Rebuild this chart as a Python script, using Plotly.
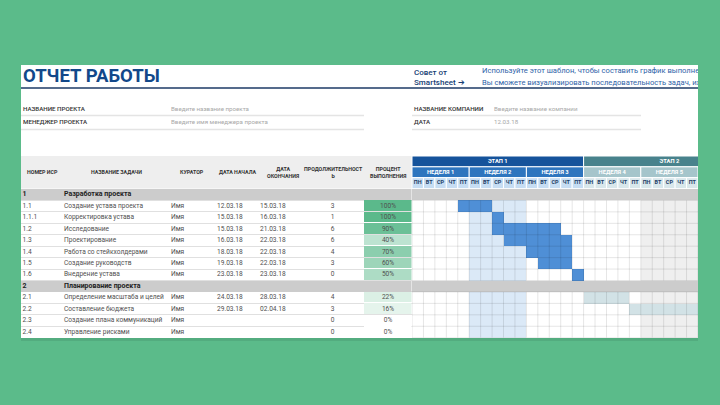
"""
Отчет работы: таблица задач + диаграмма Ганта
"""
import plotly.graph_objects as go

# ---- данные таблицы ----
wbs = ['1', '1.1', '1.1.1', '1.2', '1.3', '1.4', '1.5', '1.6',
       '2', '2.1', '2.2', '2.3', '2.4']
task_names = ['Разработка проекта', 'Создание устава проекта', 'Корректировка устава',
              'Исследование', 'Проектирование', 'Работа со стейкхолдерами',
              'Создание руководств', 'Внедрение устава',
              'Планирование проекта', 'Определение масштаба и целей',
              'Составление бюджета', 'Создание плана коммуникаций', 'Управление рисками']
curators = ['', 'Имя', 'Имя', 'Имя', 'Имя', 'Имя', 'Имя', 'Имя',
            '', 'Имя', 'Имя', 'Имя', 'Имя']
start_dates = ['', '12.03.18', '15.03.18', '15.03.18', '16.03.18', '18.03.18', '19.03.18', '23.03.18',
               '', '24.03.18', '29.03.18', '', '']
end_dates = ['', '15.03.18', '16.03.18', '21.03.18', '22.03.18', '22.03.18', '22.03.18', '23.03.18',
             '', '28.03.18', '02.04.18', '', '']
durations = [None, 3, 1, 6, 6, 4, 3, 0, None, 4, 3, 0, 0]
percent_done = [None, 100, 100, 90, 40, 70, 60, 50, None, 22, 16, 0, 0]

# ---- диаграмма Ганта: первая колонка-день и число дней ----
gantt_start = [None, 4, 7, 7, 8, 10, 11, 14, None, 15, 19, None, None]
gantt_days = [None, 3, 1, 6, 6, 4, 3, 1, None, 4, 6, None, None]

stages = ['ЭТАП 1', 'ЭТАП 2']
stage_weeks = [3, 3]
weeks = ['НЕДЕЛЯ 1', 'НЕДЕЛЯ 2', 'НЕДЕЛЯ 3', 'НЕДЕЛЯ 4', 'НЕДЕЛЯ 5']
weekdays = ['ПН', 'ВТ', 'СР', 'ЧТ', 'ПТ']
current_week = 1   # неделя 2 подсвечена
grey_week = 4      # неделя 5 серая

W, H = 720, 405
FONT = 'Roboto'
GREEN_BG = '#5bbb8a'
NAVY = '#12488a'


def fx(x):
    return x / W


def fy(y):
    return 1 - y / H


n_rows = len(wbs)
n_wd = len(weekdays)
n_days = len(weeks) * n_wd
is_section = ['.' not in w for w in wbs]
phase = [int(w.split('.')[0]) for w in wbs]

# коды ячеек: 0 белая, 1 текущая неделя, 2 серая неделя, 3 задача этапа 1, 4 задача этапа 2, 5 раздел
cell_colors = ['#ffffff', '#dbe9f7', '#efefef', '#4f8fd6', '#d2e2e6', '#cccccc']
scale = []
for k, c in enumerate(cell_colors):
    scale += [[k / len(cell_colors), c], [(k + 1) / len(cell_colors), c]]

body = []
for i in range(n_rows):
    row = []
    for d in range(n_days):
        if is_section[i]:
            row.append(5)
            continue
        wk = d // n_wd
        code = 1 if wk == current_week else (2 if wk == grey_week else 0)
        s = gantt_start[i]
        if s is not None and s <= d < s + gantt_days[i]:
            code = 3 if phase[i] == 1 else 4
        row.append(code)
    body.append(row)

fig = go.Figure()

# тело диаграммы Ганта
fig.add_trace(go.Heatmap(
    z=body, x=list(range(n_days)), y=list(range(n_rows)),
    colorscale=scale, zmin=-0.5, zmax=len(cell_colors) - 0.5,
    showscale=False, hoverinfo='skip', xaxis='x2', yaxis='y2'
))

# сетка поверх ячеек (кроме строк разделов)
runs, start = [], None
for i in range(n_rows + 1):
    if i < n_rows and not is_section[i]:
        start = i if start is None else start
    elif start is not None:
        runs.append((start, i - 1))
        start = None
gx, gy = [], []
for r0, r1 in runs:
    for d in range(n_days + 1):
        gx += [d - 0.5, d - 0.5, None]
        gy += [r0 - 0.5, r1 + 0.5, None]
    for i in range(r0, r1 + 2):
        gx += [-0.5, n_days - 0.5, None]
        gy += [i - 0.5, i - 0.5, None]
fig.add_trace(go.Scatter(
    x=gx, y=gy, mode='lines', line=dict(color='rgba(0,0,0,0.1)', width=1),
    hoverinfo='skip', xaxis='x2', yaxis='y2'
))

# шапка Ганта: этапы, недели, дни
stage_of_week = []
for k, n in enumerate(stage_weeks):
    stage_of_week += [k] * n
stage_base, acc = [], 0
for n in stage_weeks:
    stage_base.append(acc * n_wd - 0.5)
    acc += n

header_line = dict(color='white', width=1)
fig.add_trace(go.Bar(
    y=[0] * len(stages), x=[n * n_wd for n in stage_weeks], base=stage_base,
    orientation='h', width=1,
    marker=dict(color=['#15539b', '#48828c'], line=header_line),
    hoverinfo='skip', xaxis='x2', yaxis='y3'
))
fig.add_trace(go.Bar(
    y=[1] * len(weeks), x=[n_wd] * len(weeks),
    base=[w * n_wd - 0.5 for w in range(len(weeks))],
    orientation='h', width=1,
    marker=dict(color=[['#2e75be', '#a5c5cb'][stage_of_week[w]] for w in range(len(weeks))],
                line=header_line),
    hoverinfo='skip', xaxis='x2', yaxis='y3'
))
fig.add_trace(go.Bar(
    y=[2] * n_days, x=[1] * n_days, base=[d - 0.5 for d in range(n_days)],
    orientation='h', width=1,
    marker=dict(color=[['#c6ddf3', '#d8e7eb'][stage_of_week[d // n_wd]] for d in range(n_days)],
                line=header_line),
    hoverinfo='skip', xaxis='x2', yaxis='y3'
))
head_font = dict(family=FONT, size=5.8, color='white', weight=700)
fig.add_trace(go.Scatter(
    x=[b + n * n_wd / 2 for b, n in zip(stage_base, stage_weeks)], y=[0] * len(stages),
    text=stages, mode='text', textposition='middle center', textfont=head_font,
    hoverinfo='skip', xaxis='x2', yaxis='y3'
))
fig.add_trace(go.Scatter(
    x=[w * n_wd + (n_wd - 1) / 2 for w in range(len(weeks))], y=[1] * len(weeks),
    text=weeks, mode='text', textposition='middle center', textfont=head_font,
    hoverinfo='skip', xaxis='x2', yaxis='y3'
))
fig.add_trace(go.Scatter(
    x=list(range(n_days)), y=[2] * n_days, text=[weekdays[d % n_wd] for d in range(n_days)],
    mode='text', textposition='middle center',
    textfont=dict(family=FONT, size=5.5, color='#1d3d66', weight=700),
    hoverinfo='skip', xaxis='x2', yaxis='y3'
))

# таблица: полосы разделов и процент выполнения
fig.add_trace(go.Heatmap(
    z=[[5] if s else [None] for s in is_section], x=[21, 411.5], y=list(range(n_rows)),
    colorscale=scale, zmin=-0.5, zmax=len(cell_colors) - 0.5,
    showscale=False, hoverinfo='skip', xaxis='x3', yaxis='y2'
))
fig.add_trace(go.Heatmap(
    z=[[p] for p in percent_done], x=[364, 411.5], y=list(range(n_rows)),
    colorscale=[[0, '#ffffff'], [1, '#5bb98b']], zmin=0, zmax=100,
    ygap=1, showscale=False, hoverinfo='skip', xaxis='x3', yaxis='y2'
))

task_rows = [i for i in range(n_rows) if not is_section[i]]
sec_rows = [i for i in range(n_rows) if is_section[i]]
text_font = dict(family=FONT, size=6.6, color='#505050')


def table_text(x, values, rows, pos, font):
    fig.add_trace(go.Scatter(
        x=[x] * len(rows), y=rows, text=[values[i] for i in rows],
        mode='text', textposition=pos, textfont=font,
        hoverinfo='skip', xaxis='x3', yaxis='y2'
    ))


table_text(22.5, wbs, task_rows, 'middle right', text_font)
table_text(64, task_names, task_rows, 'middle right', text_font)
table_text(171, curators, task_rows, 'middle right', text_font)
table_text(217, start_dates, task_rows, 'middle right', text_font)
table_text(260, end_dates, task_rows, 'middle right', text_font)
table_text(332.7, ['' if v is None else str(v) for v in durations], task_rows, 'middle center', text_font)
table_text(388, ['' if v is None else f'{v}%' for v in percent_done], task_rows, 'middle center', text_font)
sec_font = dict(family=FONT, size=7, color='#222222', weight=700)
table_text(22.5, wbs, sec_rows, 'middle right', sec_font)
table_text(64, task_names, sec_rows, 'middle right', sec_font)

# подсказка Smartsheet (обрезается краем листа)
fig.add_trace(go.Scatter(
    x=[482, 482], y=[71, 83],
    text=['Используйте этот шаблон, чтобы составить график выполнения',
          'Вы сможете визуализировать последовательность задач, их'],
    mode='text', textposition='middle right', cliponaxis=True,
    textfont=dict(family=FONT, size=7.6, color='#2f63a8'),
    hoverinfo='skip', xaxis='x', yaxis='y'
))

annotations = []


def label(x, y, text, size=6.2, color='#333333', anchor='left', weight=400, align='center'):
    annotations.append(dict(
        x=x, y=y, xref='x', yref='y', text=text, showarrow=False,
        xanchor=anchor, yanchor='middle', align=align,
        font=dict(family=FONT, size=size, color=color, weight=weight)
    ))


label(21, 76, 'ОТЧЕТ РАБОТЫ', size=18.5, color=NAVY, weight=700)
label(412, 77, 'Совет от<br>Smartsheet ➔', size=8, color='#163e74', weight=500, align='left')
label(21, 108.7, 'НАЗВАНИЕ ПРОЕКТА', weight=500)
label(21, 122.3, 'МЕНЕДЖЕР ПРОЕКТА', weight=500)
label(169, 108.7, 'Введите название проекта', color='#a8a8a8')
label(169, 122.3, 'Введите имя менеджера проекта', color='#a8a8a8')
label(412, 108.7, 'НАЗВАНИЕ КОМПАНИИ', weight=500)
label(412, 122.3, 'ДАТА', weight=500)
label(492, 108.7, 'Введите название компании', color='#a8a8a8')
label(492, 122.3, '12.03.18', color='#a8a8a8')

headers = [(42, 'НОМЕР ИСР'), (116, 'НАЗВАНИЕ ЗАДАЧИ'), (192, 'КУРАТОР'),
           (237, 'ДАТА НАЧАЛА'), (283, 'ДАТА<br>ОКОНЧАНИЯ'),
           (333, 'ПРОДОЛЖИТЕЛЬНОСТ<br>Ь'), (388, 'ПРОЦЕНТ<br>ВЫПОЛНЕНИЯ')]
for x, t in headers:
    label(x, 172, t, size=5.3, color='#333333', anchor='center', weight=700)

shapes = [
    # лист и его тень
    dict(type='rect', xref='paper', yref='paper', x0=fx(21), x1=fx(698), y0=fy(341), y1=fy(338),
         fillcolor='rgba(0,0,0,0.08)', line_width=0, layer='below'),
    dict(type='rect', xref='paper', yref='paper', x0=fx(21), x1=fx(698), y0=fy(338), y1=fy(65),
         fillcolor='white', line_width=0, layer='below'),
    dict(type='line', xref='x', yref='y', x0=21, x1=698, y0=88, y1=88,
         line=dict(color='#1c3a66', width=1.5)),
    dict(type='line', xref='x', yref='y', x0=21, x1=364, y0=115.5, y1=115.5,
         line=dict(color='#e4e4e4', width=1.5)),
    dict(type='line', xref='x', yref='y', x0=21, x1=364, y0=129.5, y1=129.5,
         line=dict(color='#e4e4e4', width=1.5)),
    dict(type='line', xref='x', yref='y', x0=412, x1=641, y0=115.5, y1=115.5,
         line=dict(color='#e4e4e4', width=1.5)),
    dict(type='line', xref='x', yref='y', x0=412, x1=641, y0=129.5, y1=129.5,
         line=dict(color='#e4e4e4', width=1.5)),
    dict(type='rect', xref='x', yref='y', x0=21, x1=411.5, y0=156, y1=188.5,
         fillcolor='#eeeeee', line_width=0, layer='below'),
]

hidden = dict(visible=False, fixedrange=True)
grid = dict(showgrid=True, gridcolor='#e0e0e0', gridwidth=1, tick0=0.5, dtick=1,
            showticklabels=False, ticks='', zeroline=False, showline=False, fixedrange=True)

fig.update_layout(
    width=W, height=H,
    margin=dict(l=0, r=0, t=0, b=0),
    paper_bgcolor=GREEN_BG,
    plot_bgcolor='rgba(0,0,0,0)',
    showlegend=False,
    barmode='overlay',
    xaxis=dict(domain=[fx(21), fx(698)], range=[21, 698], anchor='y', **hidden),
    yaxis=dict(domain=[fy(338), fy(65)], range=[338, 65], anchor='x', **hidden),
    xaxis2=dict(domain=[fx(412), fx(698)], range=[-0.5, n_days - 0.5], anchor='y2', **hidden),
    yaxis2=dict(domain=[fy(337.7), fy(189)], range=[n_rows - 0.5, -0.5], anchor='x2', **grid),
    yaxis3=dict(domain=[fy(188.5), fy(156)], range=[2.5, -0.5], anchor='x2', **hidden),
    xaxis3=dict(domain=[fx(21), fx(411.5)], range=[21, 411.5], anchor='y2', **hidden),
    shapes=shapes,
    annotations=annotations,
)

# убираем стандартный отступ body, чтобы рисунок начинался с (0, 0)
fig.write_html("out.html", config={'displayModeBar': False},
               post_script="document.body.style.margin='0';")
